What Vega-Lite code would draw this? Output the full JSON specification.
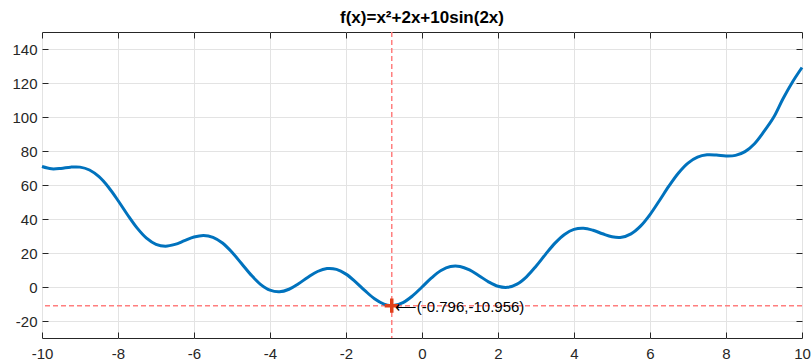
{
  "$schema": "https://vega.github.io/schema/vega-lite/v6.json",
  "width": 760,
  "height": 306,
  "autosize": {"type": "none"},
  "padding": {"left": 42, "top": 32, "right": 9, "bottom": 25},
  "background": "white",
  "config": {
    "view": {"stroke": "#262626", "strokeWidth": 1},
    "font": "Liberation Sans",
    "axis": {
      "labelFont": "Liberation Sans",
      "labelFontSize": 15,
      "labelColor": "#262626",
      "tickColor": "#262626",
      "domain": false,
      "gridColor": "#E3E3E3",
      "gridWidth": 1,
      "tickSize": -6,
      "tickWidth": 1,
      "labelExpr": "toString(datum.value)"
    }
  },
  "title": {
    "text": "f(x)=x²+2x+10sin(2x)",
    "font": "Liberation Sans",
    "fontSize": 17,
    "fontWeight": "bold",
    "color": "#000000",
    "offset": 4,
    "anchor": "middle"
  },
  "datasets": {
    "curve": [
      {"x": -10, "y": 70.87}, {"x": -9.75, "y": 69.51}, {"x": -9.5, "y": 69.75}, {"x": -9.25, "y": 70.49},
      {"x": -9, "y": 70.51}, {"x": -8.75, "y": 68.82}, {"x": -8.5, "y": 64.86}, {"x": -8.25, "y": 58.68},
      {"x": -8, "y": 50.88}, {"x": -7.75, "y": 42.5}, {"x": -7.5, "y": 34.75}, {"x": -7.25, "y": 28.71},
      {"x": -7, "y": 25.09}, {"x": -6.75, "y": 24.02}, {"x": -6.5, "y": 25.05}, {"x": -6.25, "y": 27.23},
      {"x": -6, "y": 29.37}, {"x": -5.75, "y": 30.32}, {"x": -5.5, "y": 29.25}, {"x": -5.25, "y": 25.86},
      {"x": -5, "y": 20.44}, {"x": -4.75, "y": 13.81}, {"x": -4.5, "y": 7.13}, {"x": -4.25, "y": 1.58},
      {"x": -4, "y": -1.89}, {"x": -3.75, "y": -2.82}, {"x": -3.5, "y": -1.32}, {"x": -3.25, "y": 1.91},
      {"x": -3, "y": 5.79}, {"x": -2.75, "y": 9.12}, {"x": -2.5, "y": 10.84}, {"x": -2.25, "y": 10.34},
      {"x": -2, "y": 7.57}, {"x": -1.75, "y": 3.07}, {"x": -1.5, "y": -2.16}, {"x": -1.25, "y": -6.92},
      {"x": -1, "y": -10.09}, {"x": -0.796, "y": -10.956}, {"x": -0.75, "y": -10.91}, {"x": -0.5, "y": -9.16}, {"x": -0.25, "y": -5.23},
      {"x": 0, "y": 0}, {"x": 0.25, "y": 5.36}, {"x": 0.5, "y": 9.66}, {"x": 0.75, "y": 12.04},
      {"x": 1, "y": 12.09}, {"x": 1.25, "y": 10.05}, {"x": 1.5, "y": 6.66}, {"x": 1.75, "y": 3.05},
      {"x": 2, "y": 0.43}, {"x": 2.25, "y": -0.21}, {"x": 2.5, "y": 1.66}, {"x": 2.75, "y": 6.01},
      {"x": 3, "y": 12.21}, {"x": 3.25, "y": 19.21}, {"x": 3.5, "y": 25.82}, {"x": 3.75, "y": 30.94},
      {"x": 4, "y": 33.89}, {"x": 4.25, "y": 34.55}, {"x": 4.5, "y": 33.37}, {"x": 4.75, "y": 31.31},
      {"x": 5, "y": 29.56}, {"x": 5.25, "y": 29.27}, {"x": 5.5, "y": 31.25}, {"x": 5.75, "y": 35.81},
      {"x": 6, "y": 42.63}, {"x": 6.25, "y": 50.9}, {"x": 6.5, "y": 59.45}, {"x": 6.75, "y": 67.1},
      {"x": 7, "y": 72.91}, {"x": 7.25, "y": 76.41}, {"x": 7.5, "y": 77.75}, {"x": 7.75, "y": 77.63},
      {"x": 8, "y": 77.12}, {"x": 8.25, "y": 77.44}, {"x": 8.5, "y": 79.64}, {"x": 8.75, "y": 84.31},
      {"x": 9, "y": 91.49}, {"x": 9.25, "y": 99.64}, {"x": 9.5, "y": 110.75}, {"x": 9.75, "y": 120.62},
      {"x": 10, "y": 129.13}
    ],
    "minimum": [
      {"x": -0.796, "y": -10.956, "label": "⟵(-0.796,-10.956)"}
    ]
  },
  "layer": [
    {
      "data": {"name": "minimum"},
      "mark": {"type": "rule", "stroke": "#FF7F7F", "strokeWidth": 1.5, "strokeDash": [5, 3]},
      "encoding": {
        "x": {"field": "x", "type": "quantitative",
          "scale": {"domain": [-10, 10], "nice": false, "zero": false},
          "axis": {"orient": "top", "labels": false, "grid": false, "values": [-10, -8, -6, -4, -2, 0, 2, 4, 6, 8, 10], "title": null}}
      }
    },
    {
      "data": {"name": "minimum"},
      "mark": {"type": "rule", "stroke": "#FF7F7F", "strokeWidth": 1.5, "strokeDash": [5, 3]},
      "encoding": {
        "y": {"field": "y", "type": "quantitative",
          "scale": {"domain": [-30, 150], "nice": false, "zero": false},
          "axis": {"orient": "right", "labels": false, "grid": false, "values": [-20, 0, 20, 40, 60, 80, 100, 120, 140], "title": null}}
      }
    },
    {
      "data": {"name": "curve"},
      "mark": {"type": "line", "color": "#0072BD", "strokeWidth": 3, "interpolate": "catmull-rom"},
      "encoding": {
        "x": {"field": "x", "type": "quantitative",
          "scale": {"domain": [-10, 10], "nice": false, "zero": false},
          "axis": {"orient": "bottom", "grid": true, "values": [-10, -8, -6, -4, -2, 0, 2, 4, 6, 8, 10], "title": null, "labelPadding": 14, "labelFlush": false}},
        "y": {"field": "y", "type": "quantitative",
          "scale": {"domain": [-30, 150], "nice": false, "zero": false},
          "axis": {"orient": "left", "grid": true, "values": [-20, 0, 20, 40, 60, 80, 100, 120, 140], "title": null, "labelPadding": 11}}
      }
    },
    {
      "data": {"name": "minimum"},
      "mark": {"type": "point", "shape": "M-1,0L1,0M0,-1L0,1", "filled": false, "stroke": "#E0401A", "strokeWidth": 3.5, "size": 200, "opacity": 1},
      "encoding": {
        "x": {"field": "x", "type": "quantitative", "axis": null},
        "y": {"field": "y", "type": "quantitative", "axis": null}
      }
    },
    {
      "data": {"name": "minimum"},
      "mark": {"type": "text", "align": "left", "baseline": "middle", "dx": 3, "dy": 1, "fontSize": 15, "font": "Liberation Sans", "color": "#000000"},
      "encoding": {
        "x": {"field": "x", "type": "quantitative", "axis": null},
        "y": {"field": "y", "type": "quantitative", "axis": null},
        "text": {"field": "label"}
      }
    }
  ],
  "resolve": {"axis": {"x": "independent", "y": "independent"}}
}
